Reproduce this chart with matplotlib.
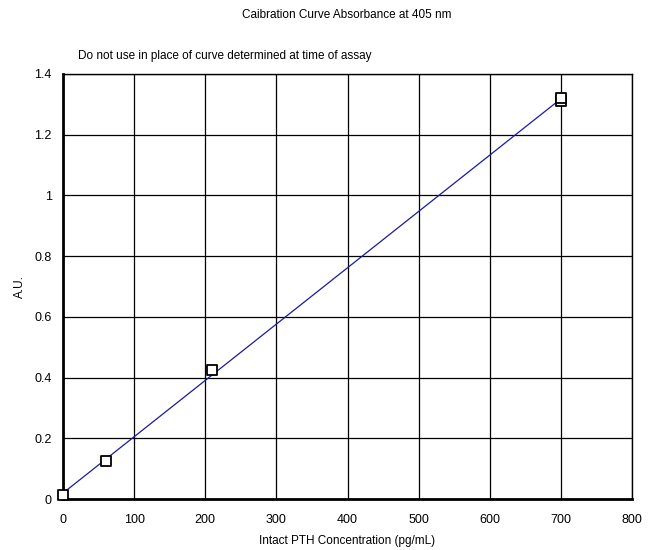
import matplotlib
matplotlib.use("Agg")
import matplotlib.pyplot as plt
import numpy as np

plt.rcParams['font.family'] = ['Liberation Sans', 'DejaVu Sans']

conc = [0, 60, 210, 700, 700]
absorb = [0.013, 0.125, 0.426, 1.31, 1.322]
title = "Caibration Curve Absorbance at 405 nm"
note = "Do not use in place of curve determined at time of assay"

fig = plt.figure(figsize=(6.55, 5.5), dpi=100)
ax = fig.add_axes([63/655, 51/550, 569/655, 425/550])

slope, intercept = np.polyfit(conc, absorb, 1)
xs = np.array([0, 700])
ax.plot(xs, slope*xs + intercept, color='#1a1aa0', lw=0.9, zorder=2)
ax.scatter(conc, absorb, marker='s', s=45, facecolor='white', edgecolor='black',
           linewidths=1.3, zorder=3, clip_on=False)

ax.set_xlim(0, 800)
ax.set_ylim(0, 1.4)
ax.set_xticks(range(0, 801, 100))
ax.set_yticks(np.arange(0, 1.41, 0.2))
ax.set_yticklabels(['0', '0.2', '0.4', '0.6', '0.8', '1', '1.2', '1.4'])
ax.grid(True, color='black', lw=0.9)
ax.set_axisbelow(True)
ax.spines['left'].set_linewidth(2)
ax.spines['bottom'].set_linewidth(2)
ax.spines['top'].set_linewidth(1)
ax.spines['right'].set_linewidth(1)
ax.tick_params(axis='x', length=0, pad=11, labelsize=9)
ax.tick_params(axis='y', length=0, pad=8, labelsize=9)
ax.set_xlabel("Intact PTH Concentration (pg/mL)", fontsize=8.5, labelpad=6)
ax.set_ylabel("A.U.", fontsize=8.5, labelpad=6)

fig.text(347/655, 1 - 15/550, title, ha='center', va='center', fontsize=8.5)
fig.text(78/655, 1 - 56/550, note, ha='left', va='center', fontsize=8.5)

fig.savefig("out.png", dpi=100)
